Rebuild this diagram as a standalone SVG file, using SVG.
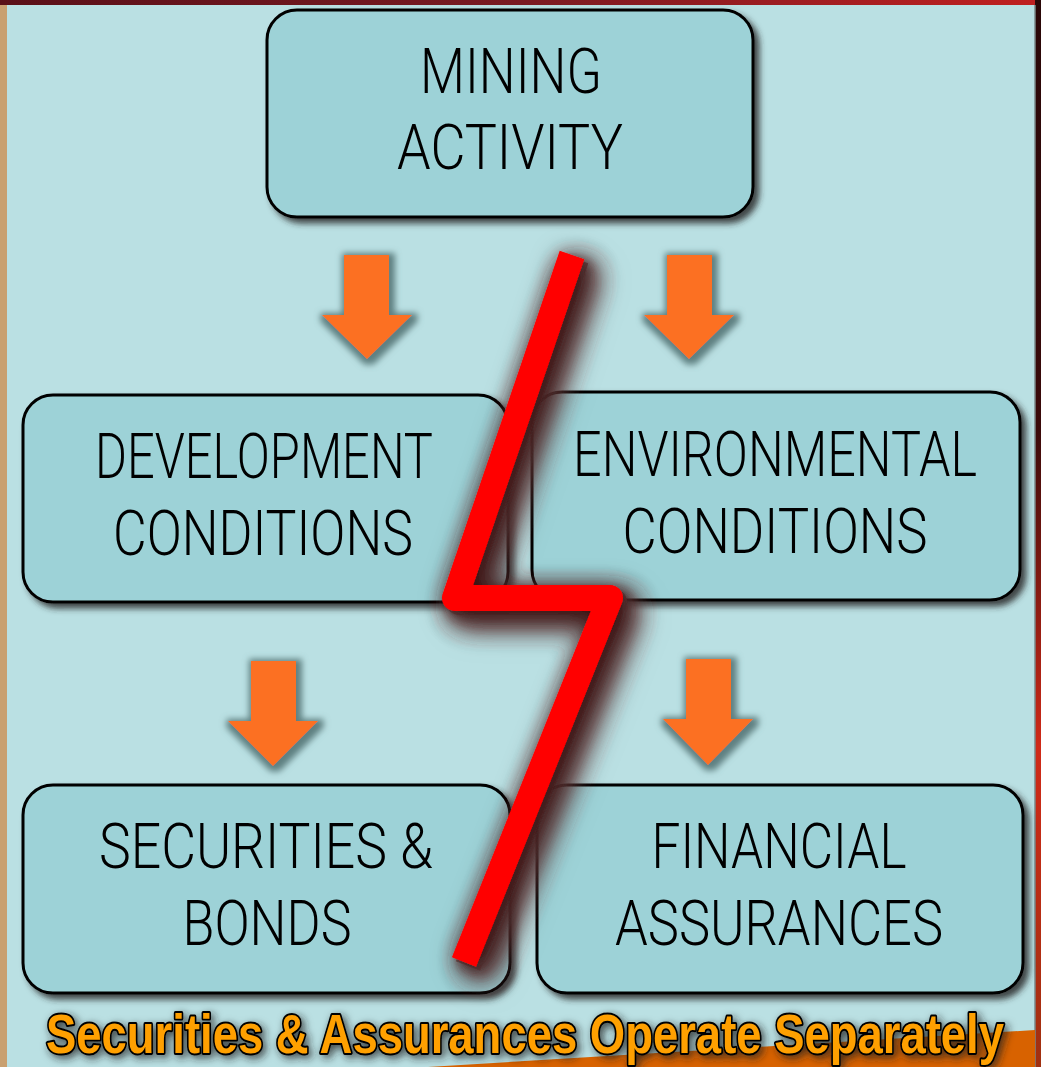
<svg xmlns="http://www.w3.org/2000/svg" width="1041" height="1067" viewBox="0 0 1041 1067">
<style>
.box{fill:#9dd2d7;stroke:#000;stroke-width:3}
.lbl{font-family:Roboto,"Liberation Sans Narrow","DejaVu Sans",sans-serif;font-weight:300;font-size:63px;fill:#000;text-anchor:middle}
.arr{fill:#fc6f22}
.cap{font-family:"Liberation Sans Narrow","Liberation Sans",sans-serif;font-weight:bold;font-size:45px;fill:#ffa000;stroke:#000;stroke-width:3.2;paint-order:stroke;stroke-linejoin:round}
</style>
<defs>
<filter id="bs" x="-10%" y="-10%" width="125%" height="130%">
<feDropShadow dx="5" dy="5" stdDeviation="3" flood-color="#2a2a2a" flood-opacity="0.85"/>
</filter>
<filter id="as" x="-40%" y="-40%" width="180%" height="180%">
<feMorphology in="SourceAlpha" operator="dilate" radius="4" result="d"/>
<feGaussianBlur in="d" stdDeviation="3" result="b"/>
<feOffset in="b" dx="2" dy="2" result="o"/>
<feFlood flood-color="#5a7b7c" flood-opacity="0.95"/>
<feComposite in2="o" operator="in" result="s"/>
<feMerge><feMergeNode in="s"/><feMergeNode in="SourceGraphic"/></feMerge>
</filter>
<filter id="ls" x="-40%" y="-20%" width="180%" height="140%">
<feDropShadow dx="6" dy="6" stdDeviation="14" flood-color="#3a1616" flood-opacity="1"/>
<feDropShadow dx="5" dy="5" stdDeviation="6" flood-color="#3a1a1a" flood-opacity="0.7"/>
<feDropShadow dx="4" dy="4" stdDeviation="0.6" flood-color="#6e4a4a" flood-opacity="0.95"/>
</filter>
<filter id="cs" x="-5%" y="-40%" width="110%" height="180%">
<feDropShadow dx="3" dy="3" stdDeviation="4" flood-color="#222" flood-opacity="0.8"/>
</filter>
<linearGradient id="tb" x1="0" y1="0" x2="1" y2="0">
<stop offset="0" stop-color="#5a1018"/>
<stop offset="0.5" stop-color="#7a1a22"/>
<stop offset="1" stop-color="#c02020"/>
</linearGradient>
<linearGradient id="rs" x1="0" y1="0" x2="0" y2="1">
<stop offset="0" stop-color="#2a0808"/>
<stop offset="0.4" stop-color="#3a0a0a"/>
<stop offset="0.7" stop-color="#d02a18"/>
<stop offset="1" stop-color="#a03010"/>
</linearGradient>
</defs>
<g id="background">
<rect x="0" y="0" width="1041" height="1067" fill="#bae0e3"/>
<rect x="0" y="0" width="7" height="1067" fill="#c9a070"/>
<rect x="0" y="0" width="1041" height="5" fill="url(#tb)"/>
<rect x="1035" y="0" width="6" height="1067" fill="url(#rs)"/>
<line x1="1035" y1="5" x2="1035" y2="1067" stroke="#7a8a8a" stroke-width="1.5"/>
<polygon points="428,1067 1035,1030 1035,1067" fill="#d86200"/>
</g>
<g id="connectors">
<g filter="url(#as)">
<polygon class="arr" points="344,255 389,255 389,315 412,315 367,359 322,315 344,315"/>
<polygon class="arr" points="667,255 712,255 712,315 734,315 689,359 644,315 667,315"/>
<polygon class="arr" points="251,661 296,661 296,721 318,721 273,766 228,721 251,721"/>
<polygon class="arr" points="686,659 731,659 731,719 753,719 708,765 663,719 686,719"/>
</g>
</g>
<g id="n-mining" filter="url(#bs)">
<rect class="box" x="267" y="10" width="486" height="207" rx="30"/>
<text class="lbl" x="511" y="93" textLength="182" lengthAdjust="spacingAndGlyphs">MINING</text>
<text class="lbl" x="510" y="169" textLength="226" lengthAdjust="spacingAndGlyphs">ACTIVITY</text>
</g>
<g id="n-development" filter="url(#bs)">
<rect class="box" x="23" y="395" width="485" height="207" rx="30"/>
<text class="lbl" x="264" y="478" textLength="338" lengthAdjust="spacingAndGlyphs">DEVELOPMENT</text>
<text class="lbl" x="263" y="555" textLength="300" lengthAdjust="spacingAndGlyphs">CONDITIONS</text>
</g>
<g id="n-environmental" filter="url(#bs)">
<rect class="box" x="532" y="392" width="488" height="208" rx="30"/>
<text class="lbl" x="0" y="0" transform="translate(775,476) scale(1,1.1)" style="font-size:57px" textLength="404" lengthAdjust="spacingAndGlyphs">ENVIRONMENTAL</text>
<text class="lbl" x="775" y="553" textLength="305" lengthAdjust="spacingAndGlyphs">CONDITIONS</text>
</g>
<g id="n-securities" filter="url(#bs)">
<rect class="box" x="23" y="785" width="487" height="208" rx="30"/>
<text class="lbl" x="266" y="868" textLength="334" lengthAdjust="spacingAndGlyphs">SECURITIES &amp;</text>
<text class="lbl" x="267" y="945" textLength="169" lengthAdjust="spacingAndGlyphs">BONDS</text>
</g>
<g id="n-financial" filter="url(#bs)">
<rect class="box" x="537" y="785" width="486" height="208" rx="30"/>
<text class="lbl" x="779" y="868" textLength="255" lengthAdjust="spacingAndGlyphs">FINANCIAL</text>
<text class="lbl" x="779" y="945" textLength="328" lengthAdjust="spacingAndGlyphs">ASSURANCES</text>
</g>
<g id="lightning" filter="url(#ls)">
<path d="M572,255 L455,598 L610,598 L464,962" fill="none" stroke="#ff0000" stroke-width="26" stroke-linejoin="round" stroke-linecap="butt"/>
</g>
<g id="caption" filter="url(#cs)">
<text class="cap" x="0" y="0" transform="translate(46,1053) scale(1,1.22)" textLength="958" lengthAdjust="spacingAndGlyphs">Securities &amp; Assurances Operate Separately</text>
</g>
</svg>
